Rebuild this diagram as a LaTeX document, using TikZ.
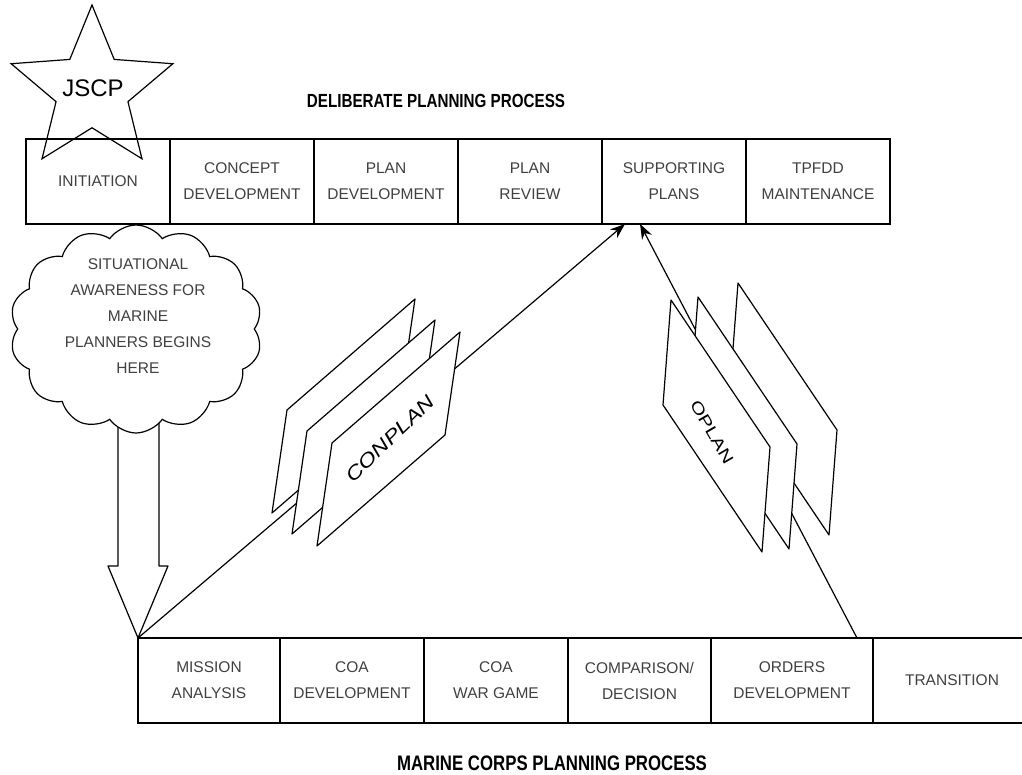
\documentclass[tikz,border=0pt]{standalone}
\usepackage{fontspec}
\setmainfont{Liberation Sans}
\newfontfamily\headfont[FakeStretch=0.8]{Liberation Sans}
\usetikzlibrary{positioning,shapes.geometric,shapes.symbols,arrows.meta,calc}
\tikzset{
  phase/.style = {draw=black, line width=1.2pt, minimum width=144pt, minimum height=85pt,
    inner sep=0pt, outer sep=0pt, align=center, text=black!75, font=\fontsize{15.5}{26}\selectfont},
  heading/.style = {inner sep=0pt, font=\headfont\bfseries\fontsize{#1}{20}\selectfont},
  sheet/.style = {draw=black, fill=white, line width=1.2pt, line join=round},
  sheetlabel/.style = {inner sep=0pt, font=\fontsize{#1}{20}\selectfont},
  planlink/.style = {line width=1.2pt, -{Stealth[length=15pt,width=11pt]}},
  hollowarrow/.style = {draw=black, fill=white, line width=1.2pt, line join=round}
}
\begin{document}
\begin{tikzpicture}[x=1pt,y=1pt]
\useasboundingbox (0,0) rectangle (1022,774);

% deliberate planning process
\node [heading=19] (DPP) at (436,673) {DELIBERATE PLANNING PROCESS};
\node [phase] (INI) at (98,592.5) {INITIATION};
\node [phase, right=0pt of INI] (CON) {CONCEPT\\DEVELOPMENT};
\node [phase, right=0pt of CON] (PD) {PLAN\\DEVELOPMENT};
\node [phase, right=0pt of PD] (PR) {PLAN\\REVIEW};
\node [phase, right=0pt of PR] (SP) {SUPPORTING\\PLANS};
\node [phase, right=0pt of SP] (TM) {TPFDD\\MAINTENANCE};

\node [star, star points=5, star point ratio=2.25, minimum size=170pt, draw=black,
  line width=1.2pt, inner sep=0pt] (JSCP) at (92,684) {};
\node [font=\fontsize{24}{24}\selectfont, inner sep=0pt] (JSCPtext) at (93,686) {JSCP};

% marine corps planning process
\node [phase, minimum width=142pt] (MA) at (209,93.5) {MISSION\\ANALYSIS};
\node [phase, right=0pt of MA] (CD) {COA\\DEVELOPMENT};
\node [phase, right=0pt of CD] (WG) {COA\\WAR GAME};
\node [phase, minimum width=143pt, right=0pt of WG] (CMP) {COMPARISON/\\DECISION};
\node [phase, minimum width=162pt, right=0pt of CMP] (OD) {ORDERS\\DEVELOPMENT};
\node [phase, minimum width=158pt, right=0pt of OD] (TR) {TRANSITION};
\node [heading=21] (MCPP) at (552,11) {MARINE CORPS PLANNING PROCESS};

% situational awareness
\coordinate (tip) at (MA.north west);
\draw [hollowarrow] ($(tip)+(-20,215)$) -- ($(tip)+(-20,72)$) -- ($(tip)+(-30,72)$) -- (tip)
  -- ($(tip)+(30,72)$) -- ($(tip)+(21,72)$) -- ($(tip)+(21,215)$);
\node [cloud, cloud puffs=14, cloud puff arc=110, aspect=1.2, draw=black, fill=white,
  line width=1.2pt, minimum width=252pt, minimum height=208pt] (SA) at (136,445) {};
\node [align=center, text=black!75, font=\fontsize{15.5}{26}\selectfont] (SAtext) at (138,458)
  {SITUATIONAL\\AWARENESS FOR\\MARINE\\PLANNERS BEGINS\\HERE};

% plans
\draw [planlink] (tip) -- ([xshift=-49pt]SP.south);
\draw [planlink] ([xshift=-16pt]OD.north east) -- ([xshift=-34pt]SP.south);

\foreach \p in {(272,261),(292,240),(317,228)}
  \draw [sheet] \p -- ++(15,103) -- ++(128,111) -- ++(-15,-103) -- cycle;
\node [sheetlabel=19, rotate=44] (CONPLAN) at (390,335) {\scalebox{1.25}[1]{\itshape CONPLAN}};

\foreach \p in {(730,386),(690,372),(663,369)}
  \draw [sheet] \p -- ++(8,105) -- ++(99,-147) -- ++(-8,-105) -- cycle;
\node [sheetlabel=16, rotate=-60] (OPLAN) at (712,342) {\scalebox{1.3}[1]{OPLAN}};
\end{tikzpicture}
\end{document}
